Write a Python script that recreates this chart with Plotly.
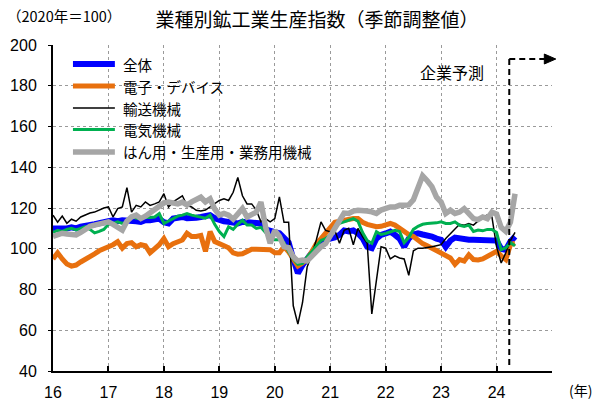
import plotly.graph_objects as go

# ---------------- data (monthly, Jan 2016 - May 2024; Apr/May 2024 = company forecast) -------------
start_year = 2016
year_ticks = [2016, 2017, 2018, 2019, 2020, 2021, 2022, 2023, 2024]
year_labels = ["16", "17", "18", "19", "20", "21", "22", "23", "24"]

total = [110, 110, 109.5, 110, 110.5, 110, 110.8, 111, 111.5, 112,
         112.5, 112.7, 113.5, 114, 113.5, 114, 114, 113.5, 113.5, 113.2,
         114, 114, 114.5, 114.8, 113, 112.4, 114.8, 115, 115.6, 115,
         114.8, 115.2, 115.6, 116, 116.5, 115, 114, 113.5, 113.2, 113,
         112.4, 113.2, 113, 113, 112.5, 112.4, 109.5, 108.6, 108.2, 107.6,
         105.5, 103, 95, 88, 92, 95.5, 98, 100.5, 103, 104.4,
         105, 105.5, 106.8, 109, 108.5, 109, 107.6, 105.2, 101, 100.3,
         105, 106.8, 107.5, 108.4, 106.8, 105, 101, 105, 107, 107.6,
         107, 106.8, 106, 105, 104.4, 101, 104, 105.5, 105, 104.4,
         104.4, 104.4, 104.4, 104.4, 104.5, 104.7, 104, 100, 99.5, 103.5,
         106]

electronics = [95, 98, 95, 92.5, 91.5, 92, 93.5, 94.7, 96, 97.5,
               99, 100.3, 101, 102, 103.5, 100.3, 102.5, 103, 101, 102,
               101.5, 98, 100, 102, 105, 101, 102.5, 103.5, 104.3, 107.6,
               106, 106, 106.5, 98.7, 108.4, 103.5, 102.7, 101.5, 100.5, 98,
               97.3, 97.5, 99, 99.8, 99.8, 99.6, 99.5, 99.5, 98, 98,
               101, 98.5, 95, 91.5, 93, 95, 98.5, 102.5, 105, 107.6,
               110.5, 113, 113.5, 114, 114.8, 114.8, 114.8, 113, 112, 111.5,
               110.8, 111, 111.5, 112.4, 111.6, 110, 108.4, 107, 106, 104,
               102.5, 101.5, 100.3, 99.5, 98.5, 97, 95.5, 92.3, 94.7, 94,
               97, 94.7, 94.5, 95, 96.3, 98, 98.7, 96.5, 94.7, 102,
               102.7]

transport = [116.5, 113, 116, 112.5, 114.5, 113.5, 115.6, 116.5, 117.5, 118,
             119, 120, 120.5, 115.6, 119.7, 120.5, 130, 118, 121.3, 120.5,
             123, 121.3, 122, 123, 127, 120.5, 123, 124.5, 126, 121.3,
             120.5, 118.9, 118.5, 119, 120.5, 122, 123.7, 124.5, 123.7, 127.7,
             135, 126, 122, 122, 119, 113.2, 114.8, 113.2, 114.8, 125.5,
             113, 113, 72, 63, 73.5, 91, 97, 104.4, 113.2, 109,
             108.4, 109, 102.7, 109, 110, 102, 110, 106, 102.7, 68,
             84, 101, 100.3, 95, 96.5, 95.5, 95, 87, 99, 100.3,
             100.3, 100.5, 101, 101.5, 102, 105, 107.5, 109.5, 112, 111.6,
             112.4, 111.6, 113.5, 115.6, 116.5, 115.6, 101, 93, 98, 104,
             108]

electrical = [108, 109, 108.5, 109.5, 110, 109.2, 110, 110.8, 109.5, 107.8,
              108.5, 109.5, 112, 112.4, 113.2, 112.4, 113.2, 116, 115, 115,
              115.5, 115.3, 115.6, 117.3, 112.4, 113.5, 114.8, 116, 116.5, 117.3,
              116.5, 116, 115.6, 115, 116.5, 112, 108.4, 106, 110.8, 109.5,
              112, 114, 111.6, 111.6, 110, 110.5, 108, 105, 104.4, 104.4,
              103, 98.5, 95, 92.3, 92.8, 96, 98.5, 101.5, 104, 105,
              106.8, 110.8, 112.5, 113.2, 114, 114.8, 113.5, 108, 104, 102.7,
              108.4, 107, 107.5, 108.4, 109, 108.5, 103, 105.5, 109.5, 111,
              112, 112.4, 112.5, 112.7, 113.2, 112.4, 112.4, 113.2, 111.5, 111,
              111.6, 108.5, 109.2, 108.8, 109.5, 109.5, 108, 99.5, 100.5, 103,
              101.5]

machinery = [106, 106.7, 107.6, 107.2, 106.8, 106.8, 108, 109.5, 111, 111.6,
             112, 112.5, 113.2, 112, 110.5, 109.2, 113.5, 115.6, 116.5, 114.8,
             116, 117.5, 119, 120.5, 122.5, 122.9, 122.5, 122, 122.9, 121.5,
             123, 124.5, 125.3, 123, 124.5, 119.5, 116.5, 117.3, 116.5, 114.5,
             117.5, 119.7, 115.6, 116.5, 118, 122.9, 110.8, 102.7, 109, 106,
             101, 100.5, 96, 94, 94.5, 94, 96.5, 99, 101, 102.5,
             106, 110, 113.5, 117.5, 117.3, 118.5, 118.9, 118.9, 118.5, 118.1,
             117.3, 119, 120, 120.5, 120.5, 121.3, 121.3, 121.5, 124, 130,
             135.8, 133.4, 130.5, 125.3, 122.9, 117.3, 118.9, 117.3, 118, 119.7,
             117.3, 114.8, 114.3, 115.6, 114.8, 118, 117, 110.5, 108.5, 113,
             127]

series_names = ["全体", "電子・デバイス", "輸送機械", "電気機械", "はん用・生産用・業務用機械"]
series_values = [total, electronics, transport, electrical, machinery]
series_colors = ["#0000FF", "#E8700E", "#000000", "#00B050", "#A6A6A6"]
series_widths = [6, 5, 1.5, 3, 5.5]

forecast_start = 2024 + 2.75 / 12   # boundary of company forecast (Apr 2024)

x_vals = [start_year + i / 12 for i in range(len(total))]

CJK = "Noto Sans CJK JP"
LAT = "Liberation Sans"

fig = go.Figure()
for name, vals, col, w in zip(series_names, series_values, series_colors, series_widths):
    fig.add_trace(go.Scatter(x=x_vals, y=vals, mode="lines", name=name,
                             line=dict(color=col, width=w), showlegend=False))

# ---------------- manual legend ----------------
leg_y = [0.9417, 0.8742, 0.8067, 0.7408, 0.6718]
for name, col, w, yy in zip(series_names, series_colors, series_widths, leg_y):
    fig.add_shape(type="line", xref="paper", yref="paper", x0=0.040, x1=0.124, y0=yy, y1=yy,
                  line=dict(color=col, width=w))
    fig.add_annotation(xref="paper", yref="paper", x=0.1363, y=yy, text=name, showarrow=False,
                       xanchor="left", yanchor="middle", font=dict(family=CJK, size=14.5, color="black"))

# ---------------- forecast marker ----------------
fig.add_shape(type="line", xref="x", yref="y", x0=forecast_start, x1=forecast_start, y0=43, y1=193.1,
              line=dict(color="black", width=2, dash="6px,4px"))
fig.add_shape(type="line", xref="x", yref="y", x0=forecast_start, x1=2024.87, y0=193.1, y1=193.1,
              line=dict(color="black", width=2, dash="6px,4px"))
fig.add_shape(type="path", xref="paper", yref="paper",
              path="M 0.9846 0.9723 L 1.0076 0.957 L 0.9846 0.9417 Z",
              fillcolor="black", line=dict(color="black", width=1))
fig.add_annotation(x=2023.19, y=186.8, xref="x", yref="y", text="企業予測", showarrow=False,
                   font=dict(family=CJK, size=16, color="black"))

# ---------------- texts ----------------
fig.add_annotation(xref="paper", yref="paper", x=-0.0956, y=1.089, text="（2020年＝100）",
                   showarrow=False, xanchor="left", yanchor="middle",
                   font=dict(family=CJK, size=14.5, color="black"))
fig.add_annotation(xref="paper", yref="paper", x=1.0567, y=-0.058, text="(年)",
                   showarrow=False, xanchor="center", yanchor="middle",
                   font=dict(family=CJK, size=14, color="black"))

fig.update_layout(
    width=596, height=401,
    margin=dict(l=53, r=44, t=45, b=30, autoexpand=False),
    paper_bgcolor="white", plot_bgcolor="white",
    showlegend=False,
    title=dict(text="業種別鉱工業生産指数（季節調整値）", x=0.532, xref="container", xanchor="center",
               y=0.95, yref="container", yanchor="middle",
               font=dict(family=CJK, size=19, color="black")),
)
fig.update_xaxes(range=[2016, 2025], tickvals=year_ticks, ticktext=year_labels,
                 automargin=False,
                 showline=True, linecolor="black", linewidth=2,
                 ticks="inside", ticklen=5, tickcolor="black", tickwidth=1.5,
                 showgrid=True, gridcolor="#9A9A9A", gridwidth=1, griddash="dot",
                 zeroline=False, ticklabelstandoff=6,
                 tickfont=dict(family=LAT, size=16, color="black"))
fig.update_yaxes(range=[40, 200], dtick=20, tick0=40,
                 automargin=False,
                 showline=True, linecolor="black", linewidth=2,
                 ticks="outside", ticklen=3, tickcolor="black",
                 showgrid=True, gridcolor="#9A9A9A", gridwidth=1, griddash="dot",
                 zeroline=False, ticklabelstandoff=8,
                 tickfont=dict(family=LAT, size=16, color="black"))

fig.write_html("out.html", config={"displayModeBar": False},
               post_script="document.body.style.margin='0';document.body.style.padding='0';")
